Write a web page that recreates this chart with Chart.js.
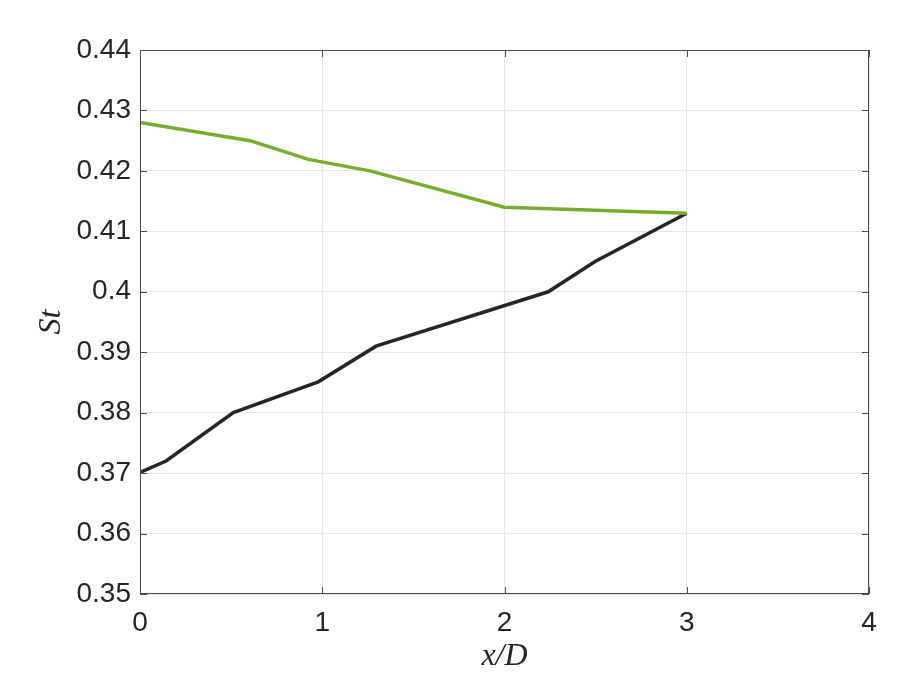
<!DOCTYPE html>
<html>
<head>
<meta charset="utf-8">
<script src="https://cdn.jsdelivr.net/npm/chart.js@4"></script>
<style>
  html, body { margin: 0; padding: 0; background: #fff; }
  #wrap { width: 913px; height: 688px; }
</style>
</head>
<body>
<div id="wrap"><canvas id="c" width="913" height="688"></canvas></div>
<script>
// data
const greenX = [0, 0.604, 0.924, 1.262, 2.0, 3.0];
const greenSt = [0.428, 0.425, 0.4219, 0.4200, 0.4140, 0.4130];
const blackX = [0, 0.143, 0.512, 0.978, 1.295, 2.24, 2.497, 3.0];
const blackSt = [0.3701, 0.3720, 0.3800, 0.3851, 0.3910, 0.4000, 0.4050, 0.4130];
const xTicks = [0, 1, 2, 3, 4];
const yTicks = [0.35, 0.36, 0.37, 0.38, 0.39, 0.40, 0.41, 0.42, 0.43, 0.44];

const toPts = (xs, ys) => xs.map((x, i) => ({x: x, y: ys[i]}));

// box + inward ticks, like the matlab axes
const framePlugin = {
  id: 'frame',
  afterDraw(chart) {
    const ctx = chart.ctx, a = chart.chartArea;
    const sx = chart.scales.x, sy = chart.scales.y;
    ctx.save();
    ctx.strokeStyle = '#4d4d4d';
    ctx.lineWidth = 1;
    ctx.strokeRect(a.left + 0.5, a.top + 0.5, a.right - a.left - 1, a.bottom - a.top - 1);
    const t = 7;
    ctx.beginPath();
    xTicks.forEach(v => {
      const px = Math.round(sx.getPixelForValue(v)) + 0.5;
      ctx.moveTo(px, a.bottom); ctx.lineTo(px, a.bottom - t);
      ctx.moveTo(px, a.top); ctx.lineTo(px, a.top + t);
    });
    yTicks.forEach(v => {
      const py = Math.round(sy.getPixelForValue(v)) + 0.5;
      ctx.moveTo(a.left, py); ctx.lineTo(a.left + t, py);
      ctx.moveTo(a.right, py); ctx.lineTo(a.right - t, py);
    });
    ctx.stroke();
    ctx.restore();
  }
};

const tickFont = { family: 'Liberation Sans, Arial, sans-serif', size: 28 };
const titleFont = { family: 'Liberation Serif, Times New Roman, serif', size: 32, style: 'italic' };

new Chart(document.getElementById('c'), {
  type: 'line',
  data: {
    datasets: [
      {
        label: 'green',
        data: toPts(greenX, greenSt),
        borderColor: '#77ac30',
        borderWidth: 3.5,
        pointRadius: 0,
        fill: false,
        tension: 0
      },
      {
        label: 'black',
        data: toPts(blackX, blackSt),
        borderColor: '#262626',
        borderWidth: 3.5,
        pointRadius: 0,
        fill: false,
        tension: 0
      }
    ]
  },
  options: {
    responsive: false,
    animation: false,
    devicePixelRatio: 1,
    layout: { padding: { left: 32, right: 44, top: 50, bottom: 0 } },
    plugins: { legend: { display: false }, tooltip: { enabled: false } },
    scales: {
      x: {
        type: 'linear',
        min: 0, max: 4,
        afterFit(s) { s.height = 94; },
        afterBuildTicks(s) { s.ticks = xTicks.map(v => ({value: v})); },
        grid: { color: '#e5e5e5', drawTicks: false, lineWidth: 1 },
        border: { display: false },
        ticks: {
          padding: 12,
          color: '#262626',
          font: tickFont,
          callback: v => String(v)
        },
        title: {
          display: true,
          text: 'x/D',
          color: '#262626',
          padding: { top: 0, bottom: 12 },
          font: titleFont
        }
      },
      y: {
        type: 'linear',
        min: 0.35, max: 0.44,
        afterFit(s) { s.width = 108; },
        afterBuildTicks(s) { s.ticks = yTicks.map(v => ({value: v})); },
        grid: { color: '#e5e5e5', drawTicks: false, lineWidth: 1 },
        border: { display: false },
        ticks: {
          padding: 9,
          color: '#262626',
          font: tickFont,
          callback: v => String(Number(v.toFixed(2)))
        },
        title: {
          display: true,
          text: 'St',
          color: '#262626',
          padding: { top: 0, bottom: 0 },
          font: titleFont
        }
      }
    }
  },
  plugins: [framePlugin]
});
</script>
</body>
</html>
